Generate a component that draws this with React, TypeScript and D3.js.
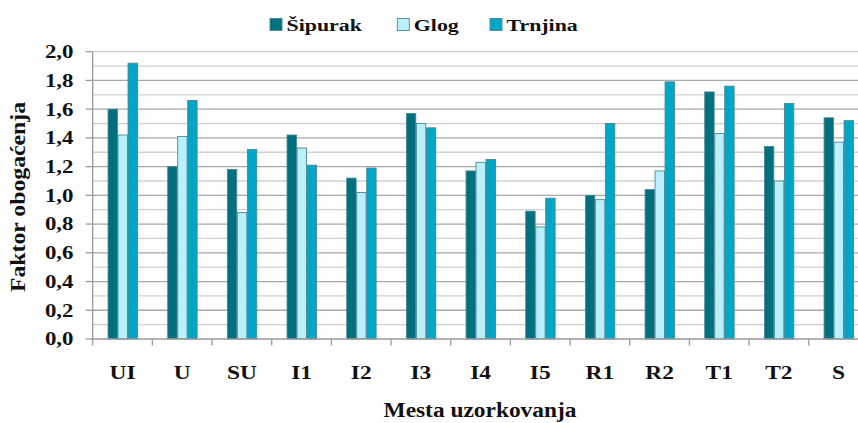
import React from "react";
import * as d3 from "d3";

const categories = ["UI", "U", "SU", "I1", "I2", "I3", "I4", "I5", "R1", "R2", "T1", "T2", "S"];
const seriesNames = ["Šipurak", "Glog", "Trnjina"];
const sipurak = [1.6, 1.2, 1.18, 1.42, 1.12, 1.57, 1.17, 0.89, 1.0, 1.04, 1.72, 1.34, 1.54];
const glog = [1.42, 1.41, 0.88, 1.33, 1.02, 1.5, 1.23, 0.78, 0.97, 1.17, 1.43, 1.1, 1.37];
const trnjina = [1.92, 1.66, 1.32, 1.21, 1.19, 1.47, 1.25, 0.98, 1.5, 1.79, 1.76, 1.64, 1.52];
const yTicks = [0, 0.2, 0.4, 0.6, 0.8, 1.0, 1.2, 1.4, 1.6, 1.8, 2.0];
const minorTicks = [0.1, 0.3, 0.5, 0.7, 0.9, 1.1, 1.3, 1.5, 1.7, 1.9];
const colors = ["#00707f", "#b9f0fb", "#00a6c6"];

const W = 858;
const H = 423;
const left = 92.7;
const catW = 59.67;
const right = left + catW * categories.length;
const top = 51.7;
const bottom = 339;
const font = "'Liberation Serif', 'Times New Roman', serif";

export default function App() {
  const values = [sipurak, glog, trnjina];
  const x0 = d3.scaleBand<string>().domain(categories).range([left, right]).padding(0);
  const groupW = 30;
  const x1 = d3.scaleBand<string>().domain(seriesNames).range([0, groupW]).padding(0);
  const y = d3.scaleLinear().domain([0, 2]).range([bottom, top]);
  const fmt = (v: number) => v.toFixed(1).replace(".", ",");
  const legendX = [270, 397.3, 490];

  return (
    <svg width={W} height={H} style={{ position: "absolute", left: 0, top: 0, background: "#fff" }}>
      {/* gridlines */}
      {minorTicks.map((t) => (
        <line key={"m" + t} x1={left} x2={W} y1={y(t)} y2={y(t)} stroke="#d0d0d0" strokeWidth={1.3} />
      ))}
      {yTicks.filter((t) => t > 0).map((t) => (
        <line key={"g" + t} x1={left} x2={W} y1={y(t)} y2={y(t)} stroke={t === 2 ? "#cccccc" : "#a8a8a8"} strokeWidth={1.3} />
      ))}
      {/* bars */}
      {categories.map((c, i) => (
        <g key={c} transform={`translate(${x0(c)! + (catW - groupW) / 2},0)`}>
          {seriesNames.map((s, j) => (
            <rect
              key={s}
              x={x1(s)! + 0.5}
              y={y(values[j][i])}
              width={x1.bandwidth() - 0.6}
              height={y(0) - y(values[j][i])}
              fill={colors[j]}
              stroke="#4a8794"
              strokeWidth={0.9}
            />
          ))}
        </g>
      ))}
      {/* axes */}
      <line x1={left} x2={left} y1={top} y2={bottom} stroke="#9a9a9a" strokeWidth={1.3} />
      <line x1={left} x2={W} y1={bottom} y2={bottom} stroke="#9a9a9a" strokeWidth={1.3} />
      {yTicks.map((t) => (
        <g key={"t" + t}>
          <line x1={left - 7} x2={left} y1={y(t)} y2={y(t)} stroke="#9a9a9a" strokeWidth={1.3} />
          <text
            transform={`translate(73.5,${y(t) + 6.4}) scale(1.27,1)`}
            textAnchor="end"
            fontFamily={font}
            fontWeight="bold"
            fontSize={18}
            fill="#111"
          >
            {fmt(t)}
          </text>
        </g>
      ))}
      {categories.map((c) => (
        <line key={"xt" + c} x1={x0(c)!} x2={x0(c)!} y1={bottom} y2={bottom + 6.5} stroke="#9a9a9a" strokeWidth={1.3} />
      ))}
      {categories.map((c) => (
        <text
          key={"xl" + c}
          transform={`translate(${x0(c)! + catW / 2},378.5) scale(1.2,1)`}
          textAnchor="middle"
          fontFamily={font}
          fontWeight="bold"
          fontSize={19.5}
          fill="#111"
        >
          {c}
        </text>
      ))}
      {/* axis titles */}
      <text
        transform="translate(480,416.5) scale(1.17,1)"
        textAnchor="middle"
        fontFamily={font}
        fontWeight="bold"
        fontSize={20}
        fill="#111"
      >
        Mesta uzorkovanja
      </text>
      <text
        transform="translate(25,197) rotate(-90) scale(1.08,1)"
        textAnchor="middle"
        fontFamily={font}
        fontWeight="bold"
        fontSize={22}
        fill="#111"
      >
        Faktor obogaćenja
      </text>
      {/* legend */}
      {seriesNames.map((s, j) => (
        <g key={"lg" + s}>
          <rect x={legendX[j]} y={18.5} width={12} height={12} fill={colors[j]} stroke="#4a8794" strokeWidth={0.9} />
          <text
            transform={`translate(${legendX[j] + 16.5},31) scale(1.25,1)`}
            fontFamily={font}
            fontWeight="bold"
            fontSize={17.5}
            fill="#111"
          >
            {s}
          </text>
        </g>
      ))}
    </svg>
  );
}
